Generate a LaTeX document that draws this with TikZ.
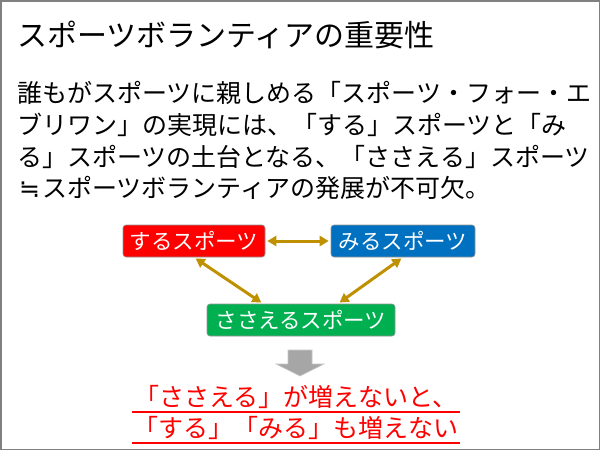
\documentclass[tikz,border=0pt]{standalone}
\usepackage{fontspec}
\setmainfont{Noto Sans CJK JP}
\newfontfamily\symfont{DejaVu Sans}
\usetikzlibrary{arrows.meta,calc}
\definecolor{boxred}{RGB}{255,0,0}
\definecolor{boxblue}{RGB}{0,112,192}
\definecolor{boxgreen}{RGB}{0,176,80}
\definecolor{linkgold}{RGB}{191,144,0}
\definecolor{arrowgray}{RGB}{166,166,166}
\definecolor{framegray}{RGB}{128,128,128}
\tikzset{
  sbox/.style={rounded corners=3pt, draw={rgb,255:red,150;green,150;blue,150}, line width=0.6pt,
    text=white, font=\fontsize{21.5pt}{24pt}\selectfont, inner sep=0pt, minimum height=32pt},
  link/.style={linkgold, line width=3pt, {Triangle[length=9pt,width=10pt]}-{Triangle[length=9pt,width=10pt]}},
  bodyline/.style={anchor=west, inner sep=0pt, font=\fontsize{25pt}{30pt}\selectfont},
  redline/.style={inner sep=0pt, text=red, font=\fontsize{25pt}{30pt}\selectfont},
}
\begin{document}
\begin{tikzpicture}[x=1pt,y=-1pt]
\fill[white] (0,0) rectangle (600,450);
\useasboundingbox (0,0) rectangle (600,450);
\draw[framegray, line width=1.5pt] (0.75,0.75) rectangle (599.25,449.25);

\node[anchor=west, inner sep=0pt, font=\fontsize{30pt}{34pt}\selectfont] (title) at (17,35) {スポーツボランティアの重要性};

\node[bodyline] (l1) at (17,93) {誰もがスポーツに親しめる「スポーツ・フォー・エ};
\node[bodyline] (l2) at (17,125) {ブリワン」の実現には、「する」スポーツと「み};
\node[bodyline] (l3) at (17,157) {る」スポーツの土台となる、「ささえる」スポーツ};
\node[bodyline] (l4) at (17,188) {\makebox[25pt]{\symfont ≒}スポーツボランティアの発展が不可欠。};

\node[sbox, fill=boxred, minimum width=142pt] (suru) at (194,241) {するスポーツ};
\node[sbox, fill=boxblue, minimum width=144pt] (miru) at (403,241) {みるスポーツ};
\node[sbox, fill=boxgreen, minimum width=188pt] (sasaeru) at (301,320) {ささえるスポーツ};

\draw[link, shorten <=2pt, shorten >=2pt] (suru.east) -- (miru.west);
\draw[link, shorten <=2pt, shorten >=2pt] (suru.south) -- ($(sasaeru.north)+(-38,0)$);
\draw[link, shorten <=2pt, shorten >=2pt] (miru.south) -- ($(sasaeru.north)+(37,0)$);

\fill[arrowgray, draw={rgb,255:red,200;green,200;blue,200}, line width=0.6pt]
  (288,350) -- (312,350) -- (312,364) -- (324,364) -- (300,376) -- (276,364) -- (288,364) -- cycle;

\node[redline] (r1) at (296,397) {「ささえる」が増えないと、};
\node[redline] (r2) at (296,428) {「する」「みる」も増えない};
\draw[red, line width=1.3pt] (132,412) -- (460,412);
\draw[red, line width=1.3pt] (132,443) -- (460,443);
\end{tikzpicture}
\end{document}
